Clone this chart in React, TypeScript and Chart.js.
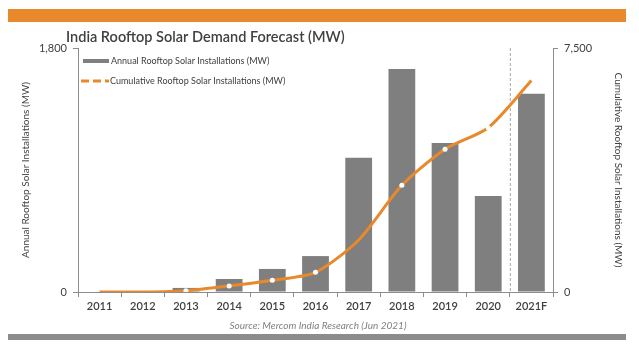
import React, { useEffect, useRef } from "react";
import { Chart, registerables } from "chart.js";

Chart.register(...registerables);

const categories = ["2011", "2012", "2013", "2014", "2015", "2016", "2017", "2018", "2019", "2020", "2021F"];
const annualMW = [0, 0, 30, 96, 170, 265, 990, 1645, 1100, 708, 1463];
const cumulativeMW = [0, 0, 40, 185, 360, 605, 1600, 3280, 4390, 5050, 6500];
const leftTicks = [0, 1800];
const rightTicks = [0, 7500];

const ORANGE = "#E8892B";
const BAR_GRAY = "#7F7F7F";
const TEXT = "#404040";
const AXIS = "#8C8C8C";
const FONT = "Lato, 'Open Sans', sans-serif";

export default function App() {
  const ref = useRef<HTMLCanvasElement | null>(null);
  useEffect(() => {
    if (!ref.current) return;
    const decor = {
      id: "decor",
      beforeDraw(chart: any) {
        const ctx = chart.ctx;
        ctx.save();
        ctx.fillStyle = "#ffffff";
        ctx.fillRect(0, 0, chart.width, chart.height);
        ctx.fillStyle = ORANGE;
        ctx.fillRect(8, 9, 618, 13);
        ctx.fillStyle = "#8C8C8C";
        ctx.fillRect(8, 334, 618, 6);
        ctx.fillStyle = TEXT;
        ctx.font = `600 14.5px ${FONT}`;
        ctx.textBaseline = "middle";
        ctx.textAlign = "left";
        ctx.fillText("India Rooftop Solar Demand Forecast (MW)", 66, 37);
        ctx.font = `italic 10px ${FONT}`;
        ctx.fillStyle = "#808080";
        ctx.textAlign = "center";
        ctx.fillText("Source: Mercom India Research (Jun 2021)", 318, 326);
        // dashed separator between actual and forecast
        const xs = chart.scales.x;
        const xSep = (xs.getPixelForValue(9) + xs.getPixelForValue(10)) / 2;
        ctx.strokeStyle = "#A6A6A6";
        ctx.lineWidth = 1;
        ctx.setLineDash([3, 2]);
        ctx.beginPath();
        ctx.moveTo(xSep + 0.5, chart.chartArea.top);
        ctx.lineTo(xSep + 0.5, chart.chartArea.bottom);
        ctx.stroke();
        ctx.setLineDash([]);
        // legend
        ctx.fillStyle = BAR_GRAY;
        ctx.fillRect(83, 59, 26, 4);
        ctx.strokeStyle = ORANGE;
        ctx.lineWidth = 3;
        ctx.setLineDash([8, 4]);
        ctx.beginPath();
        ctx.moveTo(81, 81);
        ctx.lineTo(109, 81);
        ctx.stroke();
        ctx.setLineDash([]);
        ctx.fillStyle = TEXT;
        ctx.font = `9px ${FONT}`;
        ctx.textAlign = "left";
        ctx.fillText("Annual Rooftop Solar Installations (MW)", 111, 61);
        ctx.fillText("Cumulative Rooftop Solar Installations (MW)", 110, 81);
        ctx.restore();
      },
    };
    const chart = new Chart(ref.current, {
      type: "bar",
      data: {
        labels: categories,
        datasets: [
          {
            type: "line",
            label: "Cumulative Rooftop Solar Installations (MW)",
            data: cumulativeMW,
            yAxisID: "y2",
            borderColor: ORANGE,
            borderWidth: 3,
            tension: 0.25,
            pointRadius: [0, 0, 2.5, 2.5, 2.5, 2.5, 0, 2.5, 2.5, 2.5, 0],
            pointBackgroundColor: "#ffffff",
            pointBorderWidth: 0,
            order: 0,
          } as any,
          {
            type: "bar",
            label: "Annual Rooftop Solar Installations (MW)",
            data: annualMW,
            yAxisID: "y",
            backgroundColor: BAR_GRAY,
            barPercentage: 0.62,
            categoryPercentage: 1,
            order: 1,
          },
        ],
      },
      options: {
        animation: false,
        responsive: false,
        layout: { padding: { top: 48, left: 16, right: 11, bottom: 0 } },
        plugins: { legend: { display: false }, tooltip: { enabled: false }, title: { display: false } },
        scales: {
          x: {
            grid: { drawOnChartArea: false, tickLength: 5, color: AXIS, offset: true },
            border: { color: AXIS },
            ticks: { color: TEXT, font: { family: FONT, size: 11, weight: "600" }, padding: 3 },
            afterFit: (s: any) => { s.height = 58; },
          },
          y: {
            position: "left",
            min: 0,
            max: 1800,
            afterBuildTicks: (s: any) => { s.ticks = leftTicks.map((v) => ({ value: v })); },
            grid: { drawOnChartArea: false, tickLength: 5, color: AXIS },
            border: { color: AXIS },
            ticks: {
              color: TEXT,
              font: { family: FONT, size: 11 },
              padding: 6,
              callback: (v: any) => Number(v).toLocaleString("en-US"),
            },
            title: {
              display: true,
              text: "Annual Rooftop Solar Installations (MW)",
              color: TEXT,
              font: { family: FONT, size: 10 },
              padding: { top: 4, bottom: 4 },
            },
            afterFit: (s: any) => { s.width = 62; },
          },
          y2: {
            position: "right",
            min: 0,
            max: 7500,
            afterBuildTicks: (s: any) => { s.ticks = rightTicks.map((v) => ({ value: v })); },
            grid: { drawOnChartArea: false, tickLength: 5, color: AXIS },
            border: { color: AXIS },
            ticks: {
              color: TEXT,
              font: { family: FONT, size: 11 },
              padding: 6,
              callback: (v: any) => Number(v).toLocaleString("en-US"),
            },
            title: {
              display: true,
              text: "Cumulative Rooftop Solar Installations (MW)",
              color: TEXT,
              font: { family: FONT, size: 10 },
              padding: { top: 4, bottom: 4 },
            },
            afterFit: (s: any) => { s.width = 75; },
          },
        },
      } as any,
      plugins: [decor],
    });
    return () => chart.destroy();
  }, []);
  return (
    <div style={{ position: "fixed", left: 0, top: 0, width: 639, height: 350, background: "#fff" }}>
      <canvas ref={ref} width={639} height={350} style={{ display: "block", width: 639, height: 350 }} />
    </div>
  );
}
